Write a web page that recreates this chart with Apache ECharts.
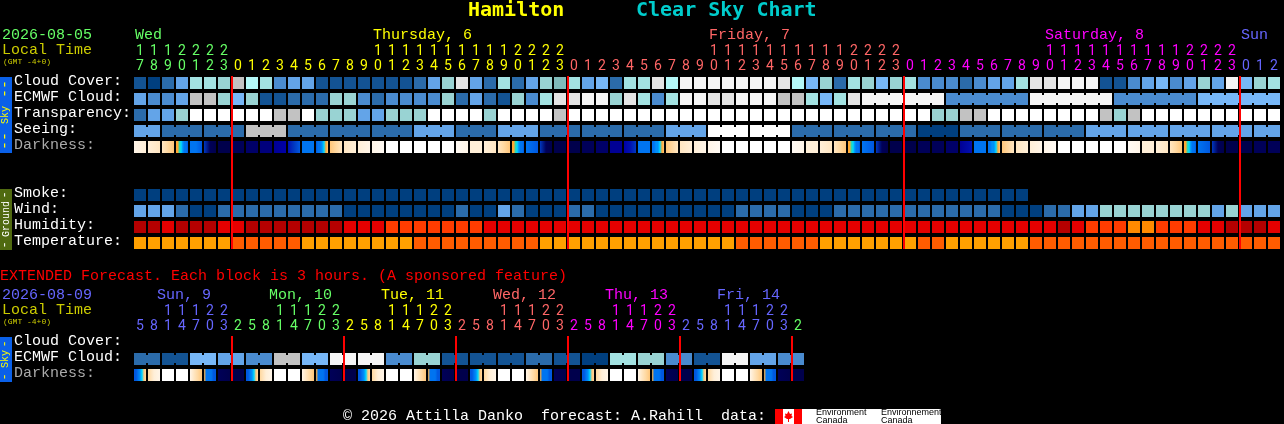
<!DOCTYPE html>
<html><head><meta charset="utf-8">
<style>html,body{margin:0;padding:0;background:#000}#c{width:1284px;height:424px}</style>
<script src="https://cdn.jsdelivr.net/npm/echarts@6/dist/echarts.min.js"></script>
</head><body><div id="c"></div>
<script>
// ---------- data ----------
const mainHours=[17,18,19,20,21,22,23,0,1,2,3,4,5,6,7,8,9,10,11,12,13,14,15,16,17,18,19,20,21,22,23,0,1,2,3,4,5,6,7,8,9,10,11,12,13,14,15,16,17,18,19,20,21,22,23,0,1,2,3,4,5,6,7,8,9,10,11,12,13,14,15,16,17,18,19,20,21,22,23,0,1,2];
const extHours=[5,8,11,14,17,20,23,2,5,8,11,14,17,20,23,2,5,8,11,14,17,20,23,2,5,8,11,14,17,20,23,2,5,8,11,14,17,20,23,2,5,8,11,14,17,20,23,2];
const mainRows=['Cloud Cover:','ECMWF Cloud:','Transparency:','Seeing:','Darkness:',' ','  ','Smoke:','Wind:','Humidity:','Temperature:'];
const extRows=['Cloud Cover:','ECMWF Cloud:','Darkness:'];
const mainDays=[['Wed',0],['Thursday, 6',17],['Friday, 7',41],['Saturday, 8',65],['Sun',79]];
const extDays=[['Sun, 9',2],['Mon, 10',10],['Tue, 11',18],['Wed, 12',26],['Thu, 13',34],['Fri, 14',42]];
const midnightsMain=[7,31,55,79];
const midnightsExt=[7,15,23,31,39,47];

const cloudCover=[1,0,2,4,8,8,7,10,9,8, 3,4,4,1,1,1,1,1,1,1, 2,4,7,11,4,2,8,2,4,7, 6,8,4,5,2,8,8,11,9,12, 12,12,12,12,12,12,11,9,5,7, 2,8,7,5,7,8,3,3,3,2, 3,4,4,8,11,11,12,12,12,1, 1,3,4,5,3,4,7,4,12,5, 7,8];
const ecmwfCloud=[4,3,3,4,10,10,7,5,7,1, 1,2,2,2,7,7,3,2,3,3, 3,3,7,2,4,2,1,7,3,8, 11,11,12,12,7,11,8,3,8,12, 12,11,11,12,12,12,10,10,8,5, 8,11, 12,12,12,12,12,12, 3,3,3,3,3,3, 12,12,12,12,12,12, 3,3,3,3,3,3, 5,5,5,5,5,5];
const ecmwfRuns=[1,1,1,1,1,1,1,1,1,1,1,1,1,1,1,1,1,1,1,1,1,1,1,1,1,1,1,1,1,1,1,1,1,1,1,1,1,1,1,1,1,1,1,1,1,1,1,1,1,1,1,1,6,6,6,6,6];
const transparency=[2,4,4,7,13,13,13,13,13,13, 10,10,13,7,7,7,4,4,7,7, 7,13,13,13,13,7,13,13,13,13, 10,13,13,13,13,13,13,13,13,13, 13,13,13,13,13,13,13,13,13,13, 13,13,13,13,13,13,13,7,7,10, 10,13,13,13,13,13,13,13,13,10, 7,10,13,13,13,13,13,13,13,13, 13,13];
const seeing=[4,4, 2,2,2, 2,2,2, 10,10,10, 2,2,2, 2,2,2, 2,2,2, 4,4,4, 2,2,2, 4,4,4, 2,2,2, 2,2,2, 2,2,2, 4,4,4, 13,13,13, 13,13,13, 2,2,2, 2,2,2, 2,2,2, 0,0,0, 2,2,2, 2,2,2, 2,2,2, 4,4,4, 4,4,4, 4,4,4, 4,4,4, 4,4];
const seeingRuns=[2,3,3,3,3,3,3,3,3,3,3,3,3,3,3,3,3,3,3,3,3,3,3,3,3,3,3,2];
const smoke=[0,0,0,0,0,0,0,0,0,0,0,0,0,0,0,0,0,0,0,0,0,0,0,0,0,0,0,0,0,0,0,0,0,0,0,0,0,0,0,0,0,0,0,0,0,0,0,0,0,0,0,0,0,0,0,0,0,0,0,0,0,0,0,0];
const wind=[4,4,4,2,0,0,2,2,2,2, 2,2,2,2,2,0,0,0,0,0, 0,0,0,2,0,0,4,2,0,0, 0,2,2,0,0,0,0,0,0,0, 0,0,0,2,2,2,2,0,0,0, 2,2,2,2,2,2,2,2,2,2, 2,2,0,0,0,2,2,4,4,7, 7,7,7,7,7,7,7,4,7,4, 4,4];
const humidity=[0,0,1,0,0,0,1,1,0,0, 0,0,0,0,0,1,1,1,2,2, 2,2,2,2,2,1,1,1,1,1, 1,1,1,1,1,1,1,1,1,1, 1,1,1,1,1,1,1,1,1,1, 1,1,1,1,1,1,1,1,1,1, 1,1,1,1,1,1,0,1,2,2, 2,3,3,2,2,2,1,1,0,0, 0,1];
const temperature=[0,0,0,0,0,0,0,1,1,1, 1,1,0,0,0,0,0,0,0,0, 1,1,1,1,1,1,1,1,1,0, 0,0,0,0,0,0,0,0,0,0, 0,0,0,1,1,1,1,1,1,0, 0,0,0,0,0,0,1,1,0,0, 0,0,0,0,1,1,1,1,1,1, 1,1,1,1,1,1,1,1,1,1, 1,1];
const darkness=[[2,3],[3,4],[4,5,6],[7,7,8,9,10,11,11,12],[11,11,12],[13,19,20],[20,20],[19,19],[18,18],[17,17],[16,15],[14,13,12],[11,11],[12,11,11,10,9,7,6],[6,5,4],[4,3],[3,2],[2,1],[0,0],[0,0],[0,0],[0,0],[0,0],[1,2],
[3,3],[3,4],[4,5,6],[7,7,8,9,10,11,11,12],[11,12],[13,19,20],[20,20],[20,20],[19,19],[18,18],[16,16],[15,14,13],[11,11],[11,11,10,10,9,7,6],[6,4],[4,3],[3,2],[2,1],[0,0],[0,0],[0,0],[0,0],[0,0],[1,2],
[3,3],[3,4],[4,5,6],[7,7,8,9,10,11,11,12],[11,12],[13,19,20],[20,20],[20,20],[19,19],[19,19],[18,18],[16,14],[11,11],[11,11,10,10,9,7,6],[6,4],[4,3],[3,2],[2,1],[0,0],[0,0],[0,0],[0,0],[0,0],[1,2],
[3,3],[3,4],[4,5,6],[7,7,8,9,10,11,11,12],[11,12],[13,19,20],[20,20],[20,20],[19,19],[19,19]];

const extEcmwf=[2,2, 1,1, 5,5, 4,4, 3,3, 10,10, 5,5, 12,12, 12,12, 3,3, 7,7, 1,1, 1,1, 1,1, 2,2, 1,1, 0,0, 8,8, 7,7, 3,3, 1,1, 12,12, 4,4, 3,3];
const extEcmwfRuns=[2,2,2,2,2,2,2,2,2,2,2,2,2,2,2,2,2,2,2,2,2,2,2,2];
const extDarkness=[
[12,12,11,10,9,6,5],[5,3,2],[0,0],[0,0],[2,4,5,6],[7,11,11,11,12,12],[19,20],[20,20],
[12,12,11,10,9,6,5],[5,3,2],[0,0],[0,0],[2,4,5,6],[7,11,11,11,12,12],[19,20],[20,20],
[12,12,11,10,9,6,5],[5,3,2],[0,0],[0,0],[2,4,5,6],[7,11,11,11,12,12],[19,20],[20,20],
[12,12,11,10,9,6,5],[5,3,2],[0,0],[0,0],[2,4,5,6],[7,11,11,11,12,12],[19,20],[20,20],
[12,12,11,10,9,6,5],[5,3,2],[0,0],[0,0],[2,4,5,6],[7,11,11,11,12,12],[19,20],[20,20],
[12,12,11,10,9,6,5],[5,3,2],[0,0],[0,0],[2,4,5,6],[7,11,11,11,12,12],[19,20],[20,20]];

// ---------- colour scales ----------
const skyColors=['#003f7f','#135393','#2b6baa','#4a8bcf','#63a4e8','#77b7f7','#80baba','#99d3d3','#a3e2e2','#b3f8f8','#c2c2c2','#e4e4e4','#f5f5f5','#ffffff'];
const humidityColors=['#b50000','#e50000','#ff3c00','#ff8a00'];
const temperatureColors=['#ffa000','#ff5c00'];
const darkColors=['#ffffff','#fffaf4','#fff5e8','#ffefd8','#ffe6c2','#ffd8a0','#ffc67a','#ffa832','#30d8b0','#00d8ff','#0090f8','#0074f0','#0058e0','#0038c0','#0010b0','#0000a8','#000094','#00007c','#000068','#000058','#00004c'];
const GREEN='#66ff66',YEL='#ffff00',SAL='#ff6666',MAG='#ff00ff',BLU='#6666ff';
const mainDayColors=[GREEN,YEL,SAL,MAG,BLU];
const extDayColors=[BLU,GREEN,YEL,SAL,MAG,BLU];
function mainHourColor(i){return i<7?GREEN:i<31?YEL:i<55?SAL:i<79?MAG:BLU;}
function extHourColor(i){return i<7?BLU:i<15?GREEN:i<23?YEL:i<31?SAL:i<39?MAG:i<47?BLU:GREEN;}

const MONO='"Liberation Mono","DejaVu Sans Mono",monospace';
const CELL=12, HALF=6;

function cellSeries(name,values,row,palette,runs,gi){
  // link[i]=1 when cell i is joined to cell i+1 inside the same forecast block
  const link=values.map(()=>0);
  if(runs){let p=0;runs.forEach(r=>{for(let k=0;k<r-1;k++)link[p+k]=1;p+=r;});}
  return {type:'custom',name,xAxisIndex:gi,yAxisIndex:gi,silent:true,z:2,
    data:values.map((v,i)=>[i,row,v,link[i]]),
    encode:{x:0,y:1},
    renderItem(p,api){
      const c=api.coord([api.value(0),api.value(1)]);
      const fill=palette[api.value(2)];
      const kids=[{type:'rect',shape:{x:c[0]-HALF,y:c[1]-HALF,width:CELL,height:CELL},style:{fill}}];
      if(api.value(3))kids.push({type:'rect',shape:{x:c[0]+HALF,y:c[1]-HALF+2,width:2,height:CELL-4},style:{fill}});
      return {type:'group',children:kids};
    }};
}
function darkSeries(name,cells,row,gi){
  return {type:'custom',name,xAxisIndex:gi,yAxisIndex:gi,silent:true,z:2,
    data:cells.map((s,i)=>[i,row]),encode:{x:0,y:1},
    renderItem(p,api){
      const c=api.coord([api.value(0),api.value(1)]);
      const s=cells[p.dataIndex];
      const stops=s.map((l,k)=>({offset:k/(s.length-1),color:darkColors[l]}));
      return {type:'rect',shape:{x:c[0]-HALF,y:c[1]-HALF,width:CELL,height:CELL},
        style:{fill:new echarts.graphic.LinearGradient(0,0,1,0,stops)}};
    }};
}
function lineSeries(name,idx,lastRow,gi){
  return {type:'custom',name,xAxisIndex:gi,yAxisIndex:gi,silent:true,z:5,
    data:idx.map(i=>[i,0,lastRow]),encode:{x:0},
    renderItem(p,api){
      const a=api.coord([api.value(0),api.value(1)]),b=api.coord([api.value(0),api.value(2)]);
      const x=a[0]-HALF;
      return {type:'rect',shape:{x:x-1,y:a[1]-HALF-1,width:2,height:b[1]-a[1]+CELL+1},style:{fill:'#ff0000'}};
    }};
}
function daySeries(name,days,colors,gi,dx,dy){
  return {type:'custom',name,xAxisIndex:gi,yAxisIndex:gi,silent:true,z:3,
    data:days.map(d=>[d[1],0]),encode:{x:0},
    renderItem(p,api){
      const c=api.coord([api.value(0),0]);
      return {type:'text',x:c[0]-HALF+dx,y:c[1]-HALF-dy,
        style:{text:days[p.dataIndex][0],fill:colors[p.dataIndex],font:'15px '+MONO,align:'left',verticalAlign:'middle'}};
    }};
}
function xAxis(hours,colorFn,gi){
  return {type:'category',gridIndex:gi,position:'top',data:hours.map((h,i)=>h+'#'+i),
    axisLine:{show:false},axisTick:{show:false},splitLine:{show:false},
    axisLabel:{interval:0,hideOverlap:false,margin:1,lineHeight:15,
      fontFamily:'Roboto',fontWeight:400,fontSize:14,
      color:(v,i)=>colorFn(i),
      formatter:(v)=>{const h=parseInt(v,10);return (h>=10?Math.floor(h/10):' ')+'\n'+(h%10);}}};
}
function yAxis(rows,gi){
  return {type:'category',gridIndex:gi,inverse:true,data:rows,
    axisLine:{show:false},axisTick:{show:false},splitLine:{show:false},
    axisLabel:{interval:0,align:'left',margin:119,verticalAlign:'bottom',lineHeight:4,fontFamily:MONO,fontSize:15,
      color:v=>v==='Darkness:'?'#aaaaaa':'#ffffff'}};
}
function label(text,x,y,fill,size,extra){
  return Object.assign({type:'text',x,y,silent:true,z:10,style:{text,fill,font:(extra&&extra.bold?'bold ':'')+size+'px '+((extra&&extra.family)||MONO),align:(extra&&extra.align)||'left',verticalAlign:'middle'}},extra&&extra.rot?{rotation:extra.rot}:{});
}
const ROT=Math.PI/2;
function vLabel(text,cx,cy,fill,size){
  return {type:'text',x:cx,y:cy,rotation:ROT,silent:true,z:10,
    style:{text,fill,font:size+'px '+MONO,align:'center',verticalAlign:'middle'}};
}
const graphics=[
  label('Hamilton',468,11,'#ffff00',20,{bold:true,family:'"DejaVu Sans Mono",monospace'}),
  label('Clear Sky Chart',636,11,'#00cccc',20,{bold:true,family:'"DejaVu Sans Mono",monospace'}),
  label('2026-08-05',2,35,GREEN,15),
  label('Local Time',2,50,'#cccc00',15),
  label('(GMT -4+0)',3,62,'#cccc00',8),
  label('EXTENDED Forecast. Each block is 3 hours. (A sponsored feature)',0,276,'#ff0000',15),
  label('2026-08-09',2,295,BLU,15),
  label('Local Time',2,310,'#cccc00',15),
  label('(GMT -4+0)',3,322,'#cccc00',8),
  {type:'rect',shape:{x:0,y:77,width:12,height:76},style:{fill:'#0a60e8'},silent:true,z:9},
  vLabel('--',5,89,'#ffff00',15),vLabel('Sky',5,115,'#ffff00',10),vLabel('--',5,141,'#ffff00',15),
  {type:'rect',shape:{x:0,y:189,width:12,height:61},style:{fill:'#506a10'},silent:true,z:9},
  vLabel('-',5,195,'#ffffff',12),vLabel('Ground',6,219,'#ffffff',10),vLabel('-',5,245,'#ffffff',12),
  {type:'rect',shape:{x:0,y:337,width:12,height:45},style:{fill:'#0a60e8'},silent:true,z:9},
  vLabel('-',5,344,'#ffff00',12),vLabel('Sky',5,359,'#ffff00',10),vLabel('-',5,377,'#ffff00',12),
  label('\u00a9 2026 Attilla Danko  forecast: A.Rahill  data:',343,416,'#ffffff',15),
  {type:'rect',shape:{x:775,y:409,width:166,height:15},style:{fill:'#ffffff'},silent:true,z:9},
  {type:'rect',shape:{x:775,y:409,width:8,height:15},style:{fill:'#ff0000'},silent:true,z:10},
  {type:'rect',shape:{x:794,y:409,width:8,height:15},style:{fill:'#ff0000'},silent:true,z:10},
  {type:'polygon',shape:{points:[[788.5,411],[790,414],[792,413.5],[791.5,416],[793,417],[790,419],[789,419],[789,422],[788,422],[788,419],[787,419],[784,417],[785.5,416],[785,413.5],[787,414]]},style:{fill:'#ff0000'},silent:true,z:11},
  label('Environment',816,413,'#000000',9,{family:'"Liberation Sans",sans-serif'}),
  label('Canada',816,421,'#000000',9,{family:'"Liberation Sans",sans-serif'}),
  label('Environnement',881,413,'#000000',9,{family:'"Liberation Sans",sans-serif'}),
  label('Canada',881,421,'#000000',9,{family:'"Liberation Sans",sans-serif'})
];

const chart=echarts.init(document.getElementById('c'),null,{renderer:'canvas',width:1284,height:424});
chart.setOption({
  animation:false,backgroundColor:'#000000',
  grid:[{left:133,top:75,width:1148,height:176},{left:133,top:335,width:672,height:48}],
  xAxis:[xAxis(mainHours,mainHourColor,0),xAxis(extHours,extHourColor,1)],
  yAxis:[yAxis(mainRows,0),yAxis(extRows,1)],
  graphic:graphics,
  series:[
    cellSeries('Cloud Cover',cloudCover,0,skyColors,null,0),
    cellSeries('ECMWF Cloud',ecmwfCloud,1,skyColors,ecmwfRuns,0),
    cellSeries('Transparency',transparency,2,skyColors,null,0),
    cellSeries('Seeing',seeing,3,skyColors,seeingRuns,0),
    darkSeries('Darkness',darkness,4,0),
    cellSeries('Smoke',smoke,7,skyColors,null,0),
    cellSeries('Wind',wind,8,skyColors,null,0),
    cellSeries('Humidity',humidity,9,humidityColors,null,0),
    cellSeries('Temperature',temperature,10,temperatureColors,null,0),
    lineSeries('Midnight',midnightsMain,10,0),
    daySeries('Days',mainDays,mainDayColors,0,1,42),
    cellSeries('Ext ECMWF',extEcmwf,1,skyColors,extEcmwfRuns,1),
    darkSeries('Ext Darkness',extDarkness,2,1),
    lineSeries('Ext Midnight',midnightsExt,2,1),
    daySeries('Ext Days',extDays,extDayColors,1,-5,42)
  ]
});
</script></body></html>
